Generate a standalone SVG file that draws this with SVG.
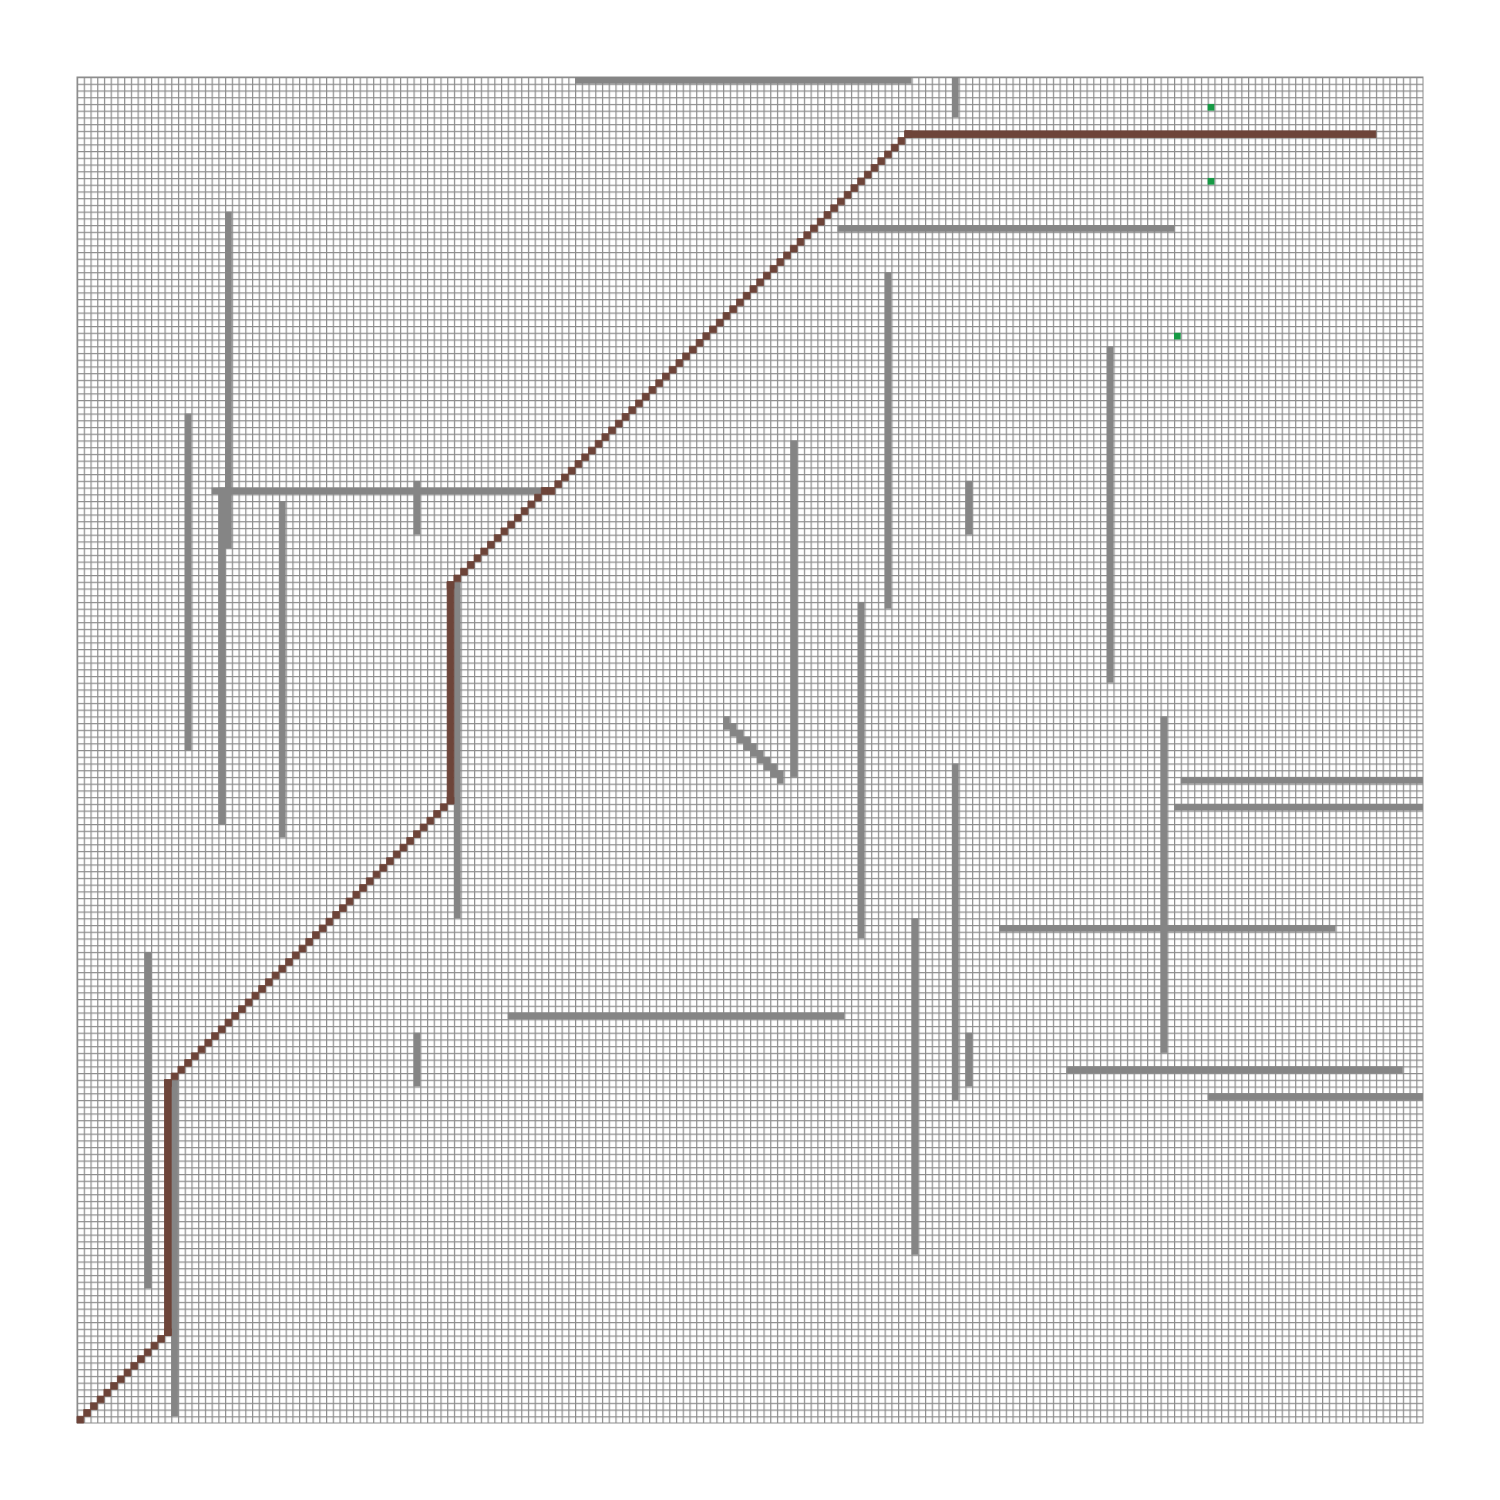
<svg xmlns="http://www.w3.org/2000/svg" width="1500" height="1500" viewBox="0 0 1500 1500">
<style>
.obs{fill:#858585}
.path{fill:#6d4439;stroke:#6d4439;stroke-width:0.12}
.goal{fill:#169a45}
</style>
<defs>
<pattern id="grid" x="77" y="77" width="6.73" height="6.73" patternUnits="userSpaceOnUse">
<rect width="6.73" height="6.73" fill="#ffffff"/>
<path d="M0 0.6H6.73M0.6 0V6.73" stroke="#8c8c8c" stroke-width="1.2" fill="none"/>
</pattern>
</defs>
<rect width="1500" height="1500" fill="#ffffff"/>
<rect id="gridArea" x="77" y="77" width="1346" height="1346" fill="url(#grid)" stroke="#8c8c8c" stroke-width="1"/>
<g id="obstacles" transform="translate(77,77) scale(6.73)">
<rect class="obs" x="74" y="0" width="50" height="1"/>
<rect class="obs" x="130" y="0" width="1" height="6"/>
<rect class="obs" x="113" y="22" width="50" height="1"/>
<rect class="obs" x="120" y="29" width="1" height="50"/>
<rect class="obs" x="22" y="20" width="1" height="50"/>
<rect class="obs" x="21" y="61" width="1" height="50"/>
<rect class="obs" x="16" y="50" width="1" height="50"/>
<rect class="obs" x="20" y="61" width="50" height="1"/>
<rect class="obs" x="50" y="60" width="1" height="8"/>
<rect class="obs" x="30" y="63" width="1" height="50"/>
<rect class="obs" x="106" y="54" width="1" height="50"/>
<path class="obs" d="M96 95h1v2h-1zm1 1h1v2h-1zm1 1h1v2h-1zm1 1h1v2h-1zm1 1h1v2h-1zm1 1h1v2h-1zm1 1h1v2h-1zm1 1h1v2h-1zm1 1h1v2h-1z"/>
<rect class="obs" x="116" y="78" width="1" height="50"/>
<rect class="obs" x="132" y="60" width="1" height="8"/>
<rect class="obs" x="153" y="40" width="1" height="50"/>
<rect class="obs" x="161" y="95" width="1" height="50"/>
<rect class="obs" x="164" y="104" width="36" height="1"/>
<rect class="obs" x="163" y="108" width="37" height="1"/>
<rect class="obs" x="56" y="75" width="1" height="50"/>
<rect class="obs" x="130" y="102" width="1" height="50"/>
<rect class="obs" x="137" y="126" width="50" height="1"/>
<rect class="obs" x="124" y="125" width="1" height="50"/>
<rect class="obs" x="64" y="139" width="50" height="1"/>
<rect class="obs" x="50" y="142" width="1" height="8"/>
<rect class="obs" x="132" y="142" width="1" height="8"/>
<rect class="obs" x="147" y="147" width="50" height="1"/>
<rect class="obs" x="168" y="151" width="32" height="1"/>
<rect class="obs" x="10" y="130" width="1" height="50"/>
<rect class="obs" x="14" y="149" width="1" height="50"/>
</g>
<g id="goals" transform="translate(77,77) scale(6.73)">
<rect class="goal" x="168" y="4" width="1" height="1"/>
<rect class="goal" x="168" y="15" width="1" height="1"/>
<rect class="goal" x="163" y="38" width="1" height="1"/>
</g>
<g id="route" transform="translate(77,77) scale(6.73)">
<path class="path" d="M0 199h1v1h-1zm1-1h1v1h-1zm1-1h1v1h-1zm1-1h1v1h-1zm1-1h1v1h-1zm1-1h1v1h-1zm1-1h1v1h-1zm1-1h1v1h-1zm1-1h1v1h-1zm1-1h1v1h-1zm1-1h1v1h-1zm1-1h1v1h-1zm1-1h1v1h-1zm1-1h1v1h-1z"/>
<rect class="path" x="13" y="149" width="1" height="38"/>
<path class="path" d="M13 149h1v1h-1zm1-1h1v1h-1zm1-1h1v1h-1zm1-1h1v1h-1zm1-1h1v1h-1zm1-1h1v1h-1zm1-1h1v1h-1zm1-1h1v1h-1zm1-1h1v1h-1zm1-1h1v1h-1zm1-1h1v1h-1zm1-1h1v1h-1zm1-1h1v1h-1zm1-1h1v1h-1zm1-1h1v1h-1zm1-1h1v1h-1zm1-1h1v1h-1zm1-1h1v1h-1zm1-1h1v1h-1zm1-1h1v1h-1zm1-1h1v1h-1zm1-1h1v1h-1zm1-1h1v1h-1zm1-1h1v1h-1zm1-1h1v1h-1zm1-1h1v1h-1zm1-1h1v1h-1zm1-1h1v1h-1zm1-1h1v1h-1zm1-1h1v1h-1zm1-1h1v1h-1zm1-1h1v1h-1zm1-1h1v1h-1zm1-1h1v1h-1zm1-1h1v1h-1zm1-1h1v1h-1zm1-1h1v1h-1zm1-1h1v1h-1zm1-1h1v1h-1zm1-1h1v1h-1zm1-1h1v1h-1zm1-1h1v1h-1zm1-1h1v1h-1z"/>
<rect class="path" x="55" y="75" width="1" height="33"/>
<path class="path" d="M55 75h1v1h-1zm1-1h1v1h-1zm1-1h1v1h-1zm1-1h1v1h-1zm1-1h1v1h-1zm1-1h1v1h-1zm1-1h1v1h-1zm1-1h1v1h-1zm1-1h1v1h-1zm1-1h1v1h-1zm1-1h1v1h-1zm1-1h1v1h-1zm1-1h1v1h-1zm1-1h1v1h-1zm1-1h1v1h-1z"/>
<path class="path" d="M70 61h1v1h-1zm1-1h1v1h-1zm1-1h1v1h-1zm1-1h1v1h-1zm1-1h1v1h-1zm1-1h1v1h-1zm1-1h1v1h-1zm1-1h1v1h-1zm1-1h1v1h-1zm1-1h1v1h-1zm1-1h1v1h-1zm1-1h1v1h-1zm1-1h1v1h-1zm1-1h1v1h-1zm1-1h1v1h-1zm1-1h1v1h-1zm1-1h1v1h-1zm1-1h1v1h-1zm1-1h1v1h-1zm1-1h1v1h-1zm1-1h1v1h-1zm1-1h1v1h-1zm1-1h1v1h-1zm1-1h1v1h-1zm1-1h1v1h-1zm1-1h1v1h-1zm1-1h1v1h-1zm1-1h1v1h-1zm1-1h1v1h-1zm1-1h1v1h-1zm1-1h1v1h-1zm1-1h1v1h-1zm1-1h1v1h-1zm1-1h1v1h-1zm1-1h1v1h-1zm1-1h1v1h-1zm1-1h1v1h-1zm1-1h1v1h-1zm1-1h1v1h-1zm1-1h1v1h-1zm1-1h1v1h-1zm1-1h1v1h-1zm1-1h1v1h-1zm1-1h1v1h-1zm1-1h1v1h-1zm1-1h1v1h-1zm1-1h1v1h-1zm1-1h1v1h-1zm1-1h1v1h-1zm1-1h1v1h-1zm1-1h1v1h-1zm1-1h1v1h-1zm1-1h1v1h-1zm1-1h1v1h-1z"/>
<rect class="path" x="123" y="8" width="70" height="1"/>
</g>
</svg>
